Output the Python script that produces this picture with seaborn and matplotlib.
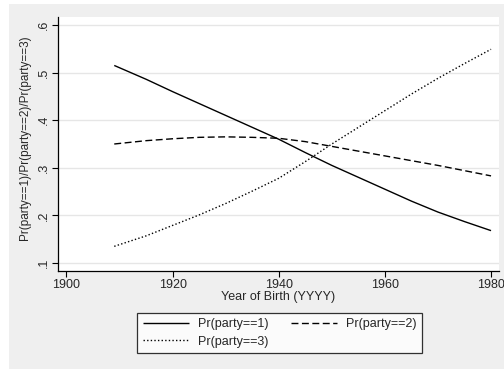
import matplotlib
matplotlib.use("Agg")
import matplotlib.pyplot as plt
import seaborn as sns
import pandas as pd
from matplotlib.patches import Rectangle

# Predicted probabilities by year of birth
years = [1909, 1915, 1920, 1925, 1930, 1935, 1940, 1945, 1950, 1955, 1960, 1965, 1970, 1975, 1980]
pr1 = [0.515, 0.486, 0.460, 0.435, 0.410, 0.385, 0.360, 0.332, 0.305, 0.280, 0.255, 0.230, 0.207, 0.187, 0.168]
pr2 = [0.350, 0.357, 0.361, 0.364, 0.365, 0.364, 0.362, 0.355, 0.345, 0.335, 0.325, 0.315, 0.305, 0.294, 0.283]
pr3 = [0.135, 0.157, 0.179, 0.201, 0.225, 0.251, 0.278, 0.313, 0.350, 0.385, 0.420, 0.455, 0.488, 0.519, 0.549]
labels = ["Pr(party==1)", "Pr(party==2)", "Pr(party==3)"]
yticks = [0.1, 0.2, 0.3, 0.4, 0.5, 0.6]
ytick_labels = [".1", ".2", ".3", ".4", ".5", ".6"]
xticks = [1900, 1920, 1940, 1960, 1980]

df = pd.DataFrame({"year": years * 3,
                   "pr": pr1 + pr2 + pr3,
                   "series": [labels[0]] * len(years) + [labels[1]] * len(years) + [labels[2]] * len(years)})

sns.set_style("white")
plt.rcParams["font.family"] = ["Liberation Sans", "DejaVu Sans"]

fig = plt.figure(figsize=(5.04, 3.69), dpi=100)
fig.patch.set_facecolor("white")
# light gray graph region
fig.patches.append(Rectangle((9 / 504, 0), 1 - 9 / 504, 1 - 4 / 369,
                             transform=fig.transFigure, facecolor="#efefef",
                             edgecolor="none", zorder=-10))

ax = fig.add_axes([58 / 504, 1 - 271 / 369, (499 - 58) / 504, (271 - 17) / 369])
ax.set_zorder(2)
ax.set_facecolor("white")

styles = {labels[0]: (0, ()), labels[1]: (0, (5, 2.5)), labels[2]: (0, (1, 1.6))}
for lab in labels:
    sub = df[df["series"] == lab]
    sns.lineplot(data=sub, x="year", y="pr", ax=ax, color="black", lw=1.0,
                 linestyle=styles[lab], label=lab, legend=False)

ax.set_xlim(1898.4, 1981.5)
ax.set_ylim(0.0832, 0.6168)
ax.set_yticks(yticks)
ax.set_yticklabels(ytick_labels, rotation=90, va="center")
ax.set_xticks(xticks)
ax.grid(axis="y", color="#e6e6e6", lw=1.0)
ax.set_axisbelow(True)
for s in ["top", "right"]:
    ax.spines[s].set_visible(False)
for s in ["left", "bottom"]:
    ax.spines[s].set_color("black")
    ax.spines[s].set_linewidth(0.9)
ax.tick_params(axis="both", which="both", direction="out", length=4, width=0.8,
               color="black", labelsize=9, pad=2, left=True, bottom=True)
ax.set_xlabel("Year of Birth (YYYY)", fontsize=9, labelpad=0)
ax.set_ylabel("Pr(party==1)/Pr(party==2)/Pr(party==3)", fontsize=8.5)
ax.yaxis.set_label_coords(-0.062, 0.525)

# legend filled row by row: party 1 and 2 on top, party 3 below
handles, hlabels = ax.get_legend_handles_labels()
order = [0, 2, 1]
leg = fig.legend([handles[i] for i in order], [hlabels[i] for i in order],
                 loc="center", bbox_to_anchor=(279.5 / 504, 1 - 333 / 369),
                 ncol=2, fontsize=9, frameon=True, fancybox=False, handlelength=3.7,
                 columnspacing=1.8, handletextpad=0.7, labelspacing=0.45,
                 borderpad=0.45, borderaxespad=0)
leg.set_zorder(3)
leg.get_frame().set_edgecolor("black")
leg.get_frame().set_linewidth(0.9)
leg.get_frame().set_facecolor("white")

fig.savefig("out.png", dpi=100)
